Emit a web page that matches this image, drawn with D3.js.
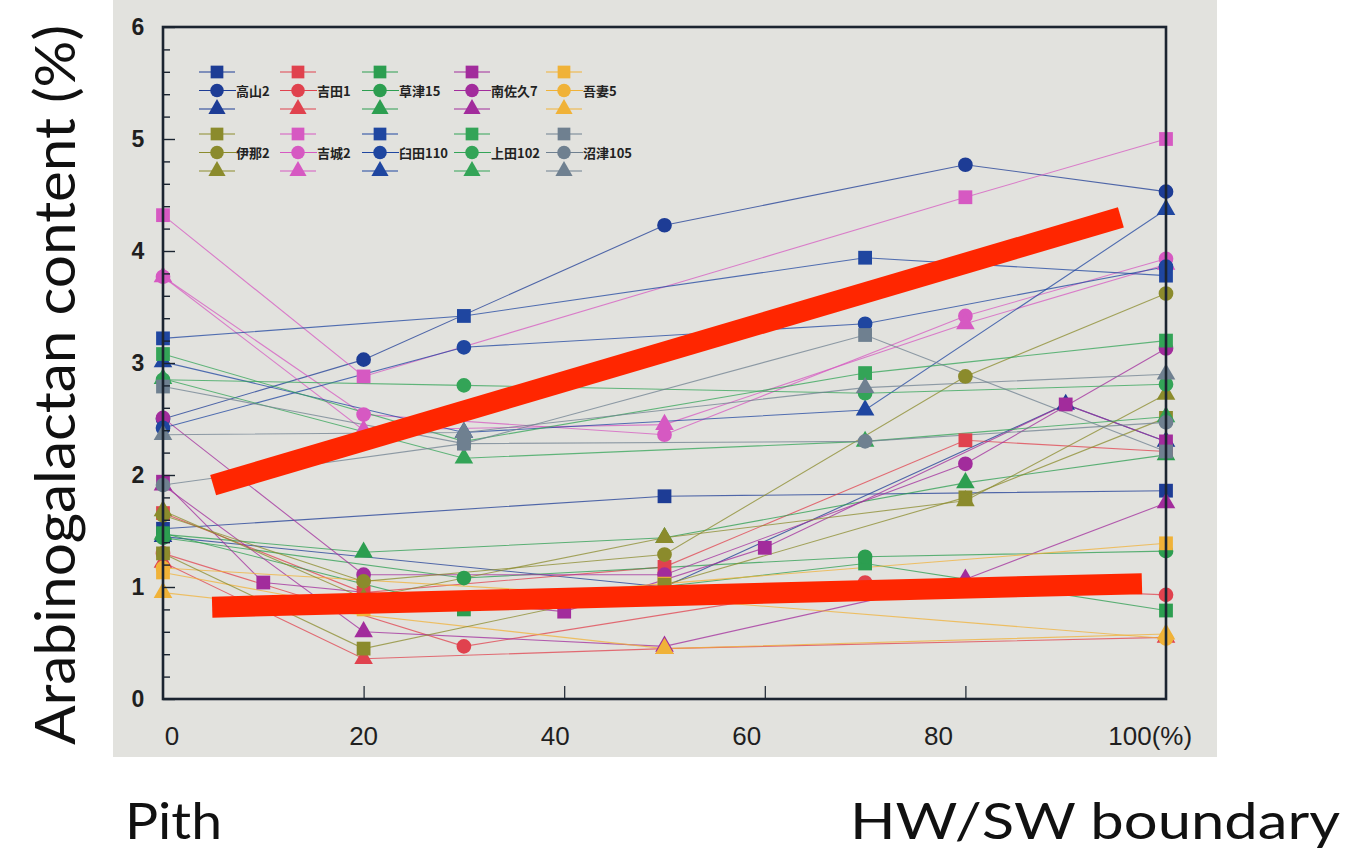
<!DOCTYPE html>
<html>
<head>
<meta charset="utf-8">
<script src="https://cdn.jsdelivr.net/npm/d3@7"></script>
<style>
  body { margin: 0; background: #ffffff; }
  svg { display: block; }
  .tick-label { font-family: "Liberation Sans Narrow", "Liberation Sans", Arial, sans-serif; fill: #1f1f1f; }
  .legend-label { font-family: "Noto Sans CJK JP", "Noto Sans", sans-serif; font-weight: 700; font-size: 13px; fill: #222; }
  .slide-text { font-family: Lato, "Open Sans", sans-serif; fill: #111; }
</style>
</head>
<body>
<svg id="chart" width="1351" height="852"></svg>
<script>
// ---- tick values ----
const xTicks = [0, 20, 40, 60, 80, 100];
const yTicks = [0, 1, 2, 3, 4, 5, 6];

// ---- populations (legend order) ----
const populations = ["高山2", "吉田1", "草津15", "南佐久7", "吾妻5",
                     "伊那2", "吉城2", "臼田110", "上田102", "沼津105"];
const populationColors = ["#1d3c95", "#e0424e", "#2c9e50", "#a22c9c", "#f0b238",
                          "#8b8b2c", "#d659c2", "#1f46a0", "#33a457", "#6f8090"];
const shapeNames = ["square", "circle", "triangle"];

// ---- arabinogalactan content (%) per tree: [position from pith (%), value] ----
// each population: [square tree, circle tree, triangle tree]
const takayama2 = [
  [[0, 1.52], [50, 1.81], [100, 1.86]],
  [[0, 2.50], [20, 3.03], [50, 4.23], [80, 4.77], [100, 4.53]],
  [[0, 1.45], [50, 1.00], [90, 2.63], [100, 2.30]]
];
const yoshida1 = [
  [[0, 1.66], [20, 0.95], [50, 1.18], [80, 2.31], [100, 2.21]],
  [[0, 1.30], [30, 0.47], [70, 1.04], [100, 0.93]],
  [[0, 1.22], [20, 0.36], [50, 0.45], [100, 0.55]]
];
const kusatsu15 = [
  [[0, 1.48], [30, 0.80], [70, 1.21], [100, 0.79]],
  [[0, 1.44], [30, 1.08], [70, 1.27], [100, 1.32]],
  [[0, 1.47], [20, 1.31], [50, 1.44], [80, 1.93], [100, 2.18]]
];
const minamisaku7 = [
  [[0, 1.94], [10, 1.04], [40, 0.78], [60, 1.35], [90, 2.63], [100, 2.30]],
  [[0, 2.51], [20, 1.11], [50, 1.11], [80, 2.10], [100, 3.13]],
  [[0, 1.91], [20, 0.60], [50, 0.47], [80, 1.07], [100, 1.75]]
];
const agatsuma5 = [
  [[0, 1.13], [20, 0.80], [50, 1.03], [100, 1.39]],
  [[0, 1.17], [50, 0.90], [100, 0.54]],
  [[0, 0.95], [50, 0.45], [100, 0.58]]
];
const ina2 = [
  [[0, 1.30], [20, 0.45], [50, 1.02], [80, 1.80], [100, 2.51]],
  [[0, 1.64], [20, 1.05], [50, 1.29], [80, 2.88], [100, 3.62]],
  [[0, 1.68], [20, 0.90], [50, 1.44], [80, 1.77], [100, 2.72]]
];
const yoshiki2 = [
  [[0, 4.32], [20, 2.88], [80, 4.48], [100, 5.00]],
  [[0, 3.77], [20, 2.54], [50, 2.36], [80, 3.42], [100, 3.93]],
  [[0, 3.77], [20, 2.40], [50, 2.45], [80, 3.35], [100, 3.88]]
];
const usuda110 = [
  [[0, 3.22], [30, 3.42], [70, 3.94], [100, 3.78]],
  [[0, 2.42], [30, 3.14], [70, 3.35], [100, 3.86]],
  [[0, 3.01], [30, 2.38], [70, 2.58], [100, 4.37]]
];
const ueda102 = [
  [[0, 3.08], [30, 2.30], [70, 2.91], [100, 3.20]],
  [[0, 2.85], [30, 2.80], [70, 2.73], [100, 2.81]],
  [[0, 2.86], [30, 2.15], [70, 2.30], [100, 2.52]]
];
const numazu105 = [
  [[0, 2.79], [30, 2.28], [70, 3.25], [100, 2.21]],
  [[0, 1.91], [30, 2.28], [70, 2.30], [100, 2.47]],
  [[0, 2.36], [30, 2.38], [70, 2.78], [100, 2.90]]
];
const populationSeries = [takayama2, yoshida1, kusatsu15, minamisaku7, agatsuma5,
                          ina2, yoshiki2, usuda110, ueda102, numazu105];

// ---- overall trends (upper and lower groups) ----
const trendUpper = [[5.0, 1.91], [95.5, 4.30]];
const trendLower = [[4.9, 0.82], [97.6, 1.03]];

// ---------------------------------------------------------------
const svg = d3.select("#chart");

// paper panel behind the chart
svg.append("rect")
  .attr("x", 113).attr("y", 0).attr("width", 1104).attr("height", 757)
  .attr("fill", "#e2e2de");

const x = d3.scaleLinear().domain([0, 100]).range([163, 1166]);
const y = d3.scaleLinear().domain([0, 6]).range([699, 27]);
const labelX = d3.scaleLinear().domain([0, 100]).range([172, 1130]);

const symbolTypes = { square: d3.symbolSquare, circle: d3.symbolCircle, triangle: d3.symbolTriangle };
const symbolSizes = { square: 190, circle: 170, triangle: 150 };

// ---- flatten into series ----
const series = [];
populationSeries.forEach((trees, pi) => {
  trees.forEach((pts, si) => {
    series.push({ pop: pi, shape: shapeNames[si], color: populationColors[pi], points: pts });
  });
});

// ---- lines ----
const lineGen = d3.line().x(d => x(d[0])).y(d => y(d[1]));
const plot = svg.append("g");
plot.selectAll("path.series")
  .data(series)
  .join("path")
  .attr("class", "series")
  .attr("d", d => lineGen(d.points))
  .attr("fill", "none")
  .attr("stroke", d => d.color)
  .attr("stroke-width", 1.1)
  .attr("stroke-opacity", 0.75);

// ---- markers ----
series.forEach(s => {
  plot.append("g").selectAll("path")
    .data(s.points)
    .join("path")
    .attr("transform", d => `translate(${x(d[0])},${y(d[1])})`)
    .attr("d", d3.symbol().type(symbolTypes[s.shape]).size(symbolSizes[s.shape]))
    .attr("fill", s.color);
});

// ---- frame ----
svg.append("rect")
  .attr("x", x(0)).attr("y", y(6))
  .attr("width", x(100) - x(0)).attr("height", y(0) - y(6))
  .attr("fill", "none").attr("stroke", "#1b2430").attr("stroke-width", 2.6);

// inward ticks on left axis: minor every 0.2, major at integers
const minorY = d3.range(0, 30).map(i => +(i * 0.2).toFixed(1)).filter(v => v % 1 !== 0);
const gMinor = svg.append("g").attr("transform", `translate(${x(0)},0)`)
  .call(d3.axisRight(y).tickValues(minorY).tickSize(7).tickFormat(""));
const gMajor = svg.append("g").attr("transform", `translate(${x(0)},0)`)
  .call(d3.axisRight(y).tickValues(yTicks).tickSize(12).tickFormat(""));
[gMinor, gMajor].forEach(g => {
  g.select(".domain").remove();
  g.selectAll("line").attr("stroke", "#1b2430").attr("stroke-width", 1.4);
});

// inward ticks on bottom axis
const gX = svg.append("g").attr("transform", `translate(0,${y(0)})`)
  .call(d3.axisTop(x).tickValues(xTicks.slice(1, -1)).tickSize(13).tickFormat(""));
gX.select(".domain").remove();
gX.selectAll("line").attr("stroke", "#1b2430").attr("stroke-width", 1.2);

// y tick labels
svg.append("g").selectAll("text")
  .data(yTicks)
  .join("text")
  .attr("class", "tick-label")
  .attr("x", 138).attr("y", d => y(d) + 8)
  .attr("text-anchor", "middle")
  .attr("font-size", 23)
  .attr("font-weight", 700)
  .text(d => d);

// x tick labels
const xl = svg.append("g");
xTicks.forEach(v => {
  const t = xl.append("text")
    .attr("class", "tick-label")
    .attr("x", labelX(v)).attr("y", 745)
    .attr("text-anchor", "middle")
    .attr("font-size", 26)
    .text(v);
  if (v === 100) {
    const bb = t.node().getBBox();
    xl.append("text")
      .attr("class", "tick-label")
      .attr("x", bb.x + bb.width).attr("y", 745)
      .attr("font-size", 26)
      .text("(%)");
  }
});

// ---- legend ----
const legendCols = [217, 298, 380, 472, 564];
const legendRows = [72, 134];
const legendGap = 18.5;
const legend = svg.append("g");
populations.forEach((name, pi) => {
  const cx = legendCols[pi % 5];
  const top = legendRows[Math.floor(pi / 5)];
  const col = populationColors[pi];
  shapeNames.forEach((shape, si) => {
    const cy = top + si * legendGap;
    const x2 = si === 1 ? cx + 19 : cx + 18;
    legend.append("line")
      .attr("x1", cx - 18).attr("x2", x2).attr("y1", cy).attr("y2", cy)
      .attr("stroke", col).attr("stroke-width", 1.2);
    legend.append("path")
      .attr("transform", `translate(${cx},${cy})`)
      .attr("d", d3.symbol().type(symbolTypes[shape]).size(symbolSizes[shape] * 0.85))
      .attr("fill", col);
  });
  legend.append("text")
    .attr("class", "legend-label")
    .attr("x", cx + 19).attr("y", top + legendGap + 5)
    .text(name);
});

// ---- trend lines ----
svg.append("g").selectAll("path")
  .data([trendUpper, trendLower])
  .join("path")
  .attr("d", lineGen)
  .attr("fill", "none")
  .attr("stroke", "#ff2600")
  .attr("stroke-width", 21)
  .attr("stroke-linecap", "butt");

// ---- slide annotations ----
svg.append("text")
  .attr("class", "slide-text")
  .attr("transform", "translate(75,385) rotate(-90)")
  .attr("text-anchor", "middle")
  .attr("font-size", 56)
  .attr("textLength", 720)
  .attr("lengthAdjust", "spacingAndGlyphs")
  .text("Arabinogalactan content (%)");

svg.append("text")
  .attr("class", "slide-text")
  .attr("x", 125).attr("y", 839)
  .attr("font-size", 50)
  .attr("textLength", 97)
  .attr("lengthAdjust", "spacingAndGlyphs")
  .text("Pith");

svg.append("text")
  .attr("class", "slide-text")
  .attr("x", 850).attr("y", 839)
  .attr("font-size", 50)
  .attr("textLength", 490)
  .attr("lengthAdjust", "spacingAndGlyphs")
  .text("HW/SW boundary");
</script>
</body>
</html>
